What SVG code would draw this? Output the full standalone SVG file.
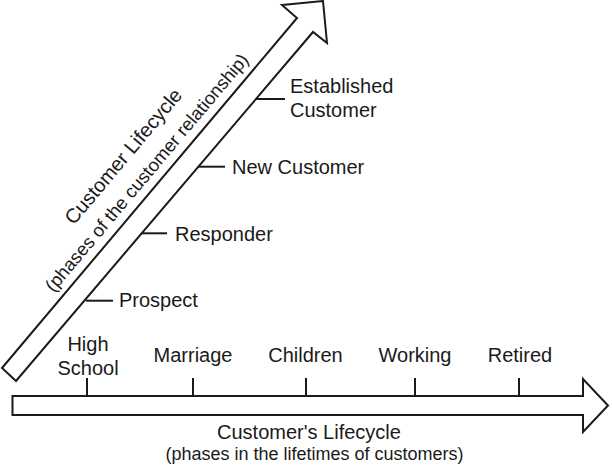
<svg xmlns="http://www.w3.org/2000/svg" width="612" height="465" viewBox="0 0 612 465">
<style>
.shape{fill:#fff;stroke:#1a1a1a;stroke-width:2;stroke-linejoin:miter}
.tick{stroke:#1a1a1a;stroke-width:2;fill:none}
text{font-family:"Liberation Sans",Arial,Helvetica,sans-serif;fill:#1a1a1a;font-size:20px}
.sub{font-size:18px}
.mid{text-anchor:middle}
</style>
<rect width="612" height="465" fill="#fff"/>
<g id="relationship-arrow">
<polygon class="shape" points="2,368 297,18 282,5 323,1 327,43 313,32 16,381"/>
<g transform="translate(128.5,160.7) rotate(-49.9)"><text class="mid" x="0" y="0">Customer Lifecycle</text></g>
<g transform="translate(151.5,176.6) rotate(-49.9)"><text class="mid sub" x="0" y="0" style="font-size:18.5px">(phases of the customer relationship)</text></g>
</g>
<g id="lifetime-arrow">
<polygon class="shape" points="12.5,396 583,396 583,379 608,405.5 583,432 583,415 12.5,415"/>
<text class="mid" x="309" y="438.5">Customer's Lifecycle</text>
<text class="mid sub" x="314.5" y="459.5">(phases in the lifetimes of customers)</text>
</g>
<g id="connectors">
<line class="tick" x1="86" y1="300.7" x2="113" y2="300.7"/>
<line class="tick" x1="141" y1="233.3" x2="167" y2="233.3"/>
<line class="tick" x1="198" y1="166.7" x2="225" y2="166.7"/>
<line class="tick" x1="256" y1="99" x2="285" y2="99"/>
<line class="tick" x1="87" y1="378" x2="87" y2="396"/>
<line class="tick" x1="193" y1="378" x2="193" y2="396"/>
<line class="tick" x1="306" y1="378" x2="306" y2="396"/>
<line class="tick" x1="415" y1="378" x2="415" y2="396"/>
<line class="tick" x1="519" y1="378" x2="519" y2="396"/>
</g>
<g id="prospect"><text x="119" y="306.5">Prospect</text></g>
<g id="responder"><text x="175" y="240.5">Responder</text></g>
<g id="new-customer"><text x="232" y="174">New Customer</text></g>
<g id="established-customer"><text x="290" y="93">Established</text><text x="290" y="117">Customer</text></g>
<g id="high-school"><text class="mid" x="88" y="351">High</text><text class="mid" x="88" y="375">School</text></g>
<g id="marriage"><text class="mid" x="193" y="362">Marriage</text></g>
<g id="children"><text class="mid" x="305.5" y="362">Children</text></g>
<g id="working"><text class="mid" x="415" y="362">Working</text></g>
<g id="retired"><text class="mid" x="520" y="362">Retired</text></g>
</svg>
